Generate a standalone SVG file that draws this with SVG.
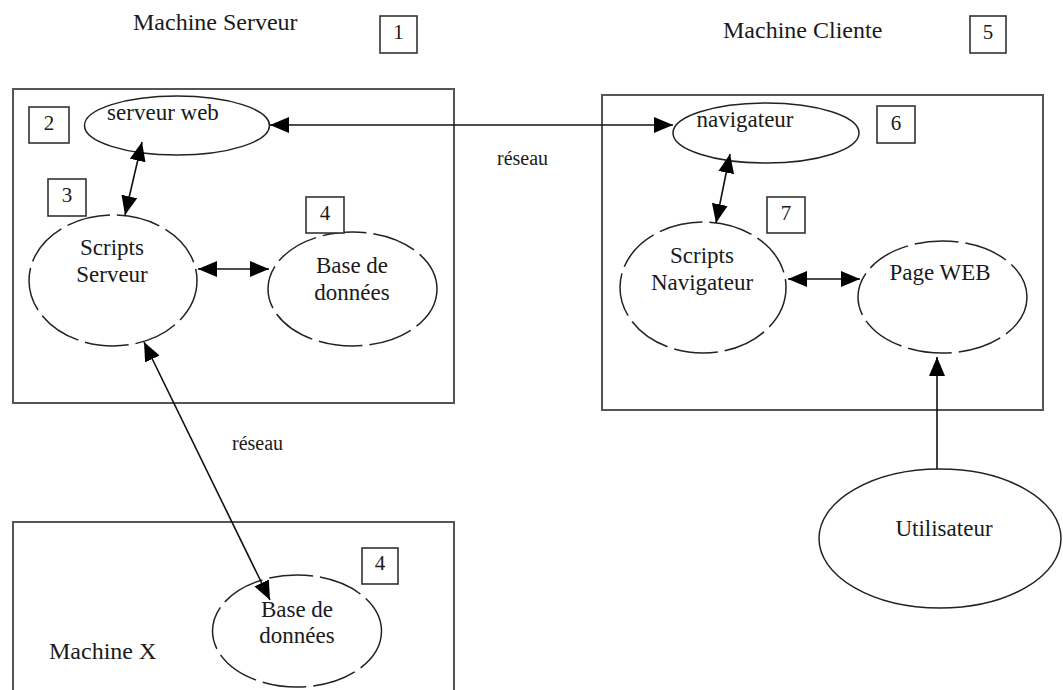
<svg xmlns="http://www.w3.org/2000/svg" width="1063" height="690" viewBox="0 0 1063 690">
<defs>
<style>
text{font-family:"Liberation Serif","Times New Roman",serif;font-size:23px;fill:#1a1a1a}
.title{font-size:24px}
.num{font-size:21px;text-anchor:middle}
.mid{text-anchor:middle}
.machine{fill:none;stroke:#555;stroke-width:2}
.tag{fill:#fff;stroke:#333;stroke-width:1.6}
.solid{fill:#fff;stroke:#222;stroke-width:1.5}
.dash{fill:#fff;stroke:#222;stroke-width:1.5;stroke-dasharray:44 7}
.conn{fill:none;stroke:#111;stroke-width:1.6}
</style>
<marker id="ah" viewBox="0 0 19 16" refX="19" refY="8" markerWidth="19" markerHeight="16" markerUnits="userSpaceOnUse" orient="auto-start-reverse">
<path d="M0,0 L19,8 L0,16 z" fill="#000"/>
</marker>
</defs>
<rect width="1063" height="690" fill="#fff"/>

<g id="machine-serveur">
<text class="title" x="133" y="30">Machine Serveur</text>
<rect class="machine" x="13" y="89" width="441" height="314"/>
</g>
<g id="tag1"><rect class="tag" x="380" y="16" width="37" height="37"/><text class="num" x="398.5" y="39">1</text></g>

<g id="machine-cliente">
<text class="title" x="723" y="38">Machine Cliente</text>
<rect class="machine" x="602" y="95" width="441" height="315"/>
</g>
<g id="tag5"><rect class="tag" x="970" y="16" width="36" height="37"/><text class="num" x="988" y="39">5</text></g>

<g id="machine-x">
<rect class="machine" x="13" y="522" width="441" height="190"/>
<text class="title" x="49" y="659">Machine X</text>
</g>

<g id="serveur-web">
<ellipse class="solid" cx="177" cy="125.5" rx="92.5" ry="29.5"/>
<text class="mid" x="163" y="120">serveur web</text>
</g>
<g id="tag2"><rect class="tag" x="29" y="107" width="40" height="36"/><text class="num" x="49" y="130">2</text></g>

<g id="scripts-serveur">
<ellipse class="dash" cx="113" cy="280.5" rx="84" ry="65.5"/>
<text class="mid" x="112" y="255">Scripts</text>
<text class="mid" x="112" y="282">Serveur</text>
</g>
<g id="tag3"><rect class="tag" x="48" y="179" width="38" height="37"/><text class="num" x="67" y="202">3</text></g>

<g id="base-donnees">
<ellipse class="dash" cx="352.5" cy="289" rx="84.5" ry="57"/>
<text class="mid" x="352" y="273">Base de</text>
<text class="mid" x="352" y="300">données</text>
</g>
<g id="tag4a"><rect class="tag" x="306" y="197" width="38" height="36"/><text class="num" x="325" y="220">4</text></g>

<g id="navigateur">
<ellipse class="solid" cx="766" cy="133" rx="93" ry="30"/>
<text class="mid" x="745" y="127">navigateur</text>
</g>
<g id="tag6"><rect class="tag" x="877" y="106" width="38" height="37"/><text class="num" x="896" y="130">6</text></g>

<g id="scripts-navigateur">
<ellipse class="dash" cx="703" cy="287.5" rx="83" ry="65.5"/>
<text class="mid" x="702" y="263">Scripts</text>
<text class="mid" x="702" y="290">Navigateur</text>
</g>
<g id="tag7"><rect class="tag" x="767" y="197" width="38" height="36"/><text class="num" x="786" y="220">7</text></g>

<g id="page-web">
<ellipse class="dash" cx="942.5" cy="297" rx="84.5" ry="56"/>
<text class="mid" x="940" y="280">Page WEB</text>
</g>

<g id="utilisateur">
<ellipse class="solid" cx="940" cy="538.5" rx="121" ry="69.5"/>
<text class="mid" x="944" y="536">Utilisateur</text>
</g>

<g id="base-donnees-x">
<ellipse class="dash" cx="297" cy="631" rx="84.5" ry="56"/>
<text class="mid" x="297" y="617">Base de</text>
<text class="mid" x="297" y="643">données</text>
</g>
<g id="tag4b"><rect class="tag" x="362" y="548" width="36" height="36"/><text class="num" x="380" y="570">4</text></g>

<g id="connectors">
<line class="conn" x1="270" y1="125" x2="673" y2="125" marker-start="url(#ah)" marker-end="url(#ah)"/>
<line class="conn" x1="142" y1="142" x2="125" y2="215" marker-start="url(#ah)" marker-end="url(#ah)"/>
<line class="conn" x1="198" y1="269" x2="269" y2="269" marker-start="url(#ah)" marker-end="url(#ah)"/>
<line class="conn" x1="144" y1="342" x2="270" y2="600" marker-start="url(#ah)" marker-end="url(#ah)"/>
<line class="conn" x1="730" y1="154" x2="716" y2="223" marker-start="url(#ah)" marker-end="url(#ah)"/>
<line class="conn" x1="788" y1="279" x2="860" y2="279" marker-start="url(#ah)" marker-end="url(#ah)"/>
<line class="conn" x1="937" y1="469" x2="937" y2="357" marker-end="url(#ah)"/>
<text x="497" y="165" style="font-size:20px">réseau</text>
<text x="232" y="450" style="font-size:20px">réseau</text>
</g>
</svg>
